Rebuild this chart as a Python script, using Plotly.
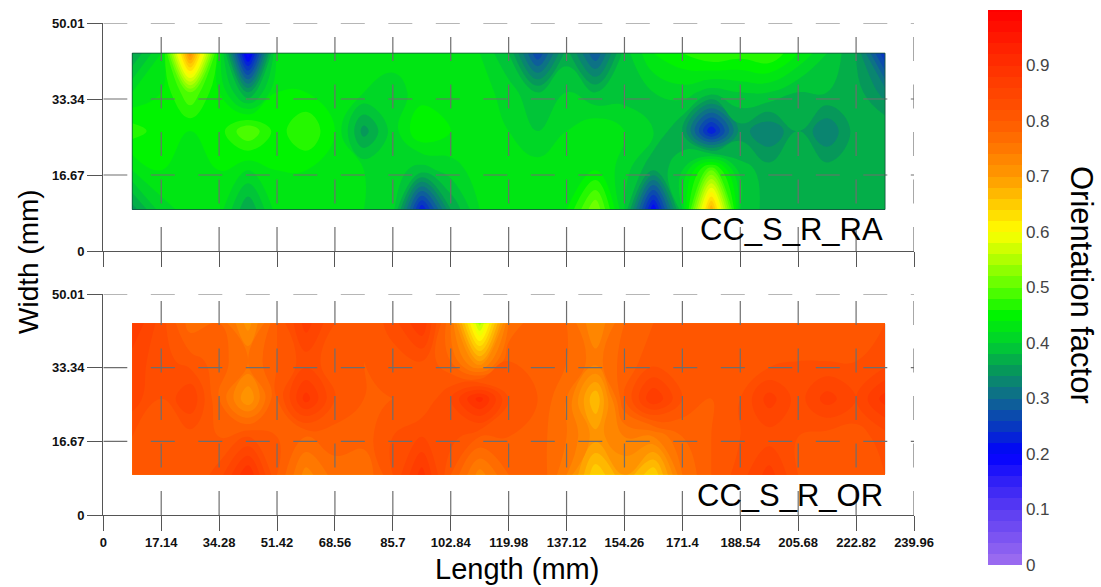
import plotly.graph_objects as go

# ---------------- data ----------------
x_ticks = [0, 17.14, 34.28, 51.42, 68.56, 85.7, 102.84, 119.98, 137.12, 154.26,
           171.4, 188.54, 205.68, 222.82, 239.96]
x_tick_text = ["0", "17.14", "34.28", "51.42", "68.56", "85.7", "102.84", "119.98",
               "137.12", "154.26", "171.4", "188.54", "205.68", "222.82", "239.96"]
y_ticks = [0, 16.67, 33.34, 50.01]
y_tick_text = ["0", "16.67", "33.34", "50.01"]
cbar_ticks = [0, 0.1, 0.2, 0.3, 0.4, 0.5, 0.6, 0.7, 0.8, 0.9]

# measurement node positions (mm)
x_nodes = [8.57, 17.14, 25.71, 34.28, 42.85, 51.42, 59.99, 68.56, 77.13, 85.7,
           94.27, 102.84, 111.41, 119.98, 128.55, 137.12, 145.69, 154.26, 162.83,
           171.4, 179.97, 188.54, 197.11, 205.68, 214.25, 222.82, 231.39]
y_nodes = [9.1, 17.7, 26.3, 34.8, 43.4]

# CC_S_R_RA orientation factor, rows from y=9.1 up to y=43.4
ra_row_9 = [0.35, 0.41, 0.43, 0.43, 0.36, 0.43, 0.44, 0.44, 0.42, 0.41, 0.22, 0.36, 0.42, 0.43,
            0.43, 0.44, 0.52, 0.40, 0.20, 0.40, 0.68, 0.40, 0.37, 0.37, 0.36, 0.37, 0.36]
ra_row_18 = [0.42, 0.44, 0.44, 0.44, 0.42, 0.44, 0.44, 0.44, 0.42, 0.41, 0.39, 0.41, 0.43, 0.43,
             0.43, 0.44, 0.44, 0.41, 0.36, 0.40, 0.50, 0.39, 0.37, 0.37, 0.37, 0.37, 0.37]
ra_row_26 = [0.47, 0.45, 0.44, 0.45, 0.50, 0.45, 0.48, 0.44, 0.35, 0.41, 0.46, 0.44, 0.44, 0.42,
             0.40, 0.42, 0.44, 0.42, 0.40, 0.36, 0.22, 0.35, 0.32, 0.36, 0.32, 0.37, 0.38]
ra_row_35 = [0.42, 0.44, 0.50, 0.44, 0.36, 0.44, 0.44, 0.44, 0.42, 0.41, 0.43, 0.43, 0.43, 0.41,
             0.38, 0.40, 0.38, 0.39, 0.40, 0.41, 0.39, 0.40, 0.40, 0.38, 0.38, 0.37, 0.33]
ra_row_43 = [0.36, 0.42, 0.72, 0.44, 0.18, 0.43, 0.44, 0.44, 0.43, 0.43, 0.43, 0.43, 0.42, 0.38,
             0.26, 0.37, 0.28, 0.39, 0.44, 0.46, 0.48, 0.47, 0.48, 0.44, 0.40, 0.36, 0.24]

# CC_S_R_OR orientation factor
or_row_9 = [0.80, 0.80, 0.80, 0.83, 0.90, 0.80, 0.73, 0.77, 0.76, 0.82, 0.89, 0.80, 0.73, 0.78,
            0.80, 0.74, 0.64, 0.70, 0.64, 0.76, 0.80, 0.83, 0.87, 0.82, 0.80, 0.81, 0.82]
or_row_18 = [0.82, 0.81, 0.81, 0.80, 0.82, 0.80, 0.78, 0.79, 0.79, 0.82, 0.84, 0.83, 0.80, 0.80,
             0.79, 0.76, 0.71, 0.74, 0.74, 0.78, 0.80, 0.82, 0.83, 0.82, 0.81, 0.81, 0.83]
or_row_26 = [0.85, 0.82, 0.86, 0.78, 0.70, 0.80, 0.89, 0.82, 0.80, 0.80, 0.80, 0.84, 0.91, 0.82,
             0.80, 0.76, 0.66, 0.80, 0.88, 0.82, 0.80, 0.82, 0.87, 0.83, 0.87, 0.84, 0.89]
or_row_35 = [0.85, 0.83, 0.81, 0.79, 0.76, 0.80, 0.83, 0.81, 0.80, 0.81, 0.82, 0.78, 0.70, 0.80,
             0.80, 0.78, 0.75, 0.79, 0.81, 0.80, 0.81, 0.81, 0.81, 0.82, 0.82, 0.82, 0.83]
or_row_43 = [0.88, 0.83, 0.77, 0.78, 0.71, 0.80, 0.87, 0.82, 0.80, 0.83, 0.88, 0.76, 0.55, 0.76,
             0.80, 0.78, 0.72, 0.78, 0.80, 0.81, 0.82, 0.81, 0.80, 0.81, 0.82, 0.81, 0.82]

ra_z = [ra_row_9, ra_row_18, ra_row_26, ra_row_35, ra_row_43]
or_z = [or_row_9, or_row_18, or_row_26, or_row_35, or_row_43]

# ---------------- style ----------------
colorscale = [
    [0.00, "#a070f0"], [0.05, "#7c54f2"], [0.10, "#5a3cf2"], [0.15, "#3020f6"],
    [0.20, "#0000ff"], [0.25, "#0838c0"], [0.30, "#0f6890"], [0.35, "#06985a"],
    [0.40, "#00d030"], [0.45, "#00f400"], [0.50, "#5cff00"], [0.55, "#b0ff00"],
    [0.60, "#ffff00"], [0.65, "#ffcc00"], [0.70, "#ff9a00"], [0.75, "#ff7800"],
    [0.80, "#ff5a00"], [0.90, "#ff3000"], [1.00, "#ff0000"],
]
FONT = "Arial, Liberation Sans, sans-serif"
GRID = "#6e6e6e"
AXIS = "#555555"
contours = dict(start=0, end=1, size=0.02, coloring="fill", showlines=False)

fig = go.Figure()
fig.add_trace(go.Contour(
    x=x_nodes, y=y_nodes, z=ra_z, xaxis="x", yaxis="y",
    colorscale=colorscale, zmin=0, zmax=1, autocontour=False, contours=contours,
    line=dict(width=0, smoothing=1.3), showscale=True,
    colorbar=dict(
        x=988 / 1101, xanchor="left", y=1 - 287.5 / 587, yanchor="middle",
        len=555 / 587, lenmode="fraction", thickness=34, outlinewidth=0,
        xpad=0, ypad=0,
        tickvals=cbar_ticks, ticks="", ticklabelposition="outside",
        tickfont=dict(family=FONT, size=17, color="#444444"),
    ),
))
fig.add_trace(go.Contour(
    x=x_nodes, y=y_nodes, z=or_z, xaxis="x2", yaxis="y2",
    colorscale=colorscale, zmin=0, zmax=1, autocontour=False, contours=contours,
    line=dict(width=0, smoothing=1.3), showscale=False,
))

x_dom = [103.3 / 1101, 914 / 1101]
top_dom = [1 - 251 / 587, 1 - 23 / 587]
bot_dom = [1 - 515 / 587, 1 - 294 / 587]

axis_common = dict(showline=True, linecolor=AXIS, linewidth=1.2, ticks="outside",
                   ticklen=15, tickcolor=AXIS, tickwidth=1.2, showgrid=False,
                   zeroline=False, fixedrange=True, automargin=False,
                   tickfont=dict(family=FONT, size=13, color="#111111", weight="bold"))

fig.update_layout(
    width=1101, height=587, margin=dict(l=0, r=0, t=0, b=0, autoexpand=False),
    paper_bgcolor="white", plot_bgcolor="white", showlegend=False,
    xaxis=dict(domain=x_dom, anchor="y", range=[0, 239.96], tickvals=x_ticks,
               ticktext=x_tick_text, showticklabels=False, **axis_common),
    yaxis=dict(domain=top_dom, anchor="x", range=[0, 50.01], tickvals=y_ticks,
               ticktext=y_tick_text, **axis_common),
    xaxis2=dict(domain=x_dom, anchor="y2", range=[0, 239.96], tickvals=x_ticks,
                ticktext=x_tick_text, **axis_common),
    yaxis2=dict(domain=bot_dom, anchor="x2", range=[0, 50.01], tickvals=y_ticks,
                ticktext=y_tick_text, **axis_common),
)

# dashed grid drawn above the maps, dash pattern starting at the axis origin
shapes = []
for xr, yr in (("x", "y"), ("x2", "y2")):
    for xt in x_ticks[1:]:
        shapes.append(dict(type="line", xref=xr, yref=yr, x0=xt, x1=xt,
                           y0=y_ticks[0], y1=y_ticks[-1], layer="above",
                           line=dict(color=GRID, width=1.2, dash="24px,23.5px")))
    for yt in y_ticks[1:]:
        shapes.append(dict(type="line", xref=xr, yref=yr, x0=x_ticks[0], x1=x_ticks[-1],
                           y0=yt, y1=yt, layer="above",
                           line=dict(color=GRID, width=1.2, dash="24px,23.5px")))
# thin outline of the top map
shapes.append(dict(type="rect", xref="x", yref="y", x0=x_nodes[0], x1=x_nodes[-1],
                   y0=y_nodes[0], y1=y_nodes[-1], layer="above",
                   line=dict(color="rgba(20,90,50,0.8)", width=1)))
fig.update_layout(shapes=shapes)

annotations = [
    dict(text="CC_S_R_RA", xref="x", yref="y", x=231.4, y=4.8, xanchor="right",
         yanchor="middle", showarrow=False, font=dict(family=FONT, size=31, color="black")),
    dict(text="CC_S_R_OR", xref="x2", yref="y2", x=231.4, y=4.3, xanchor="right",
         yanchor="middle", showarrow=False, font=dict(family=FONT, size=31, color="black")),
    dict(text="Width (mm)", xref="paper", yref="paper", x=28 / 1101, y=1 - 262 / 587,
         xanchor="center", yanchor="middle", textangle=-90, showarrow=False,
         font=dict(family=FONT, size=28, color="black")),
    dict(text="Length (mm)", xref="paper", yref="paper", x=517 / 1101, y=1 - 569 / 587,
         xanchor="center", yanchor="middle", showarrow=False,
         font=dict(family=FONT, size=29, color="black")),
    dict(text="Orientation factor", xref="paper", yref="paper", x=1082 / 1101, y=1 - 285 / 587,
         xanchor="center", yanchor="middle", textangle=90, showarrow=False,
         font=dict(family=FONT, size=31, color="black")),
]
fig.update_layout(annotations=annotations)

fig.write_html("out.html", config={"displayModeBar": False},
               post_script="document.body.style.margin='0';document.body.style.overflow='hidden';")
